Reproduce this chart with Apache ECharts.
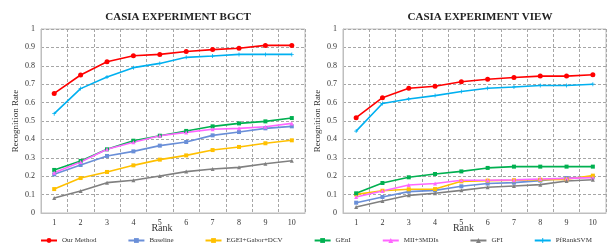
<!DOCTYPE html>
<html>
<head>
<meta charset="utf-8">
<script src="https://cdn.jsdelivr.net/npm/echarts@6/dist/echarts.min.js"></script>
<style>
  html, body { margin: 0; padding: 0; background: #fff; }
  #chart { width: 610px; height: 251px; }
</style>
</head>
<body>
<div id="chart"></div>
<script>
// 横轴 rank
const ranks = ['1', '2', '3', '4', '5', '6', '7', '8', '9', '10']
const seriesNames = ['Our Method', 'Baseline', 'EGEI+Gabor+DCV', 'GEnI', 'MII+3MDIs', 'GFI', 'PfRankSVM']

// BGCT 实验
const bgctOurMethod = [0.65, 0.75, 0.822, 0.855, 0.862, 0.878, 0.888, 0.895, 0.911, 0.911]
const bgctBaseline = [0.21, 0.261, 0.31, 0.335, 0.366, 0.386, 0.422, 0.44, 0.46, 0.471]
const bgctEgei = [0.13, 0.19, 0.223, 0.259, 0.29, 0.313, 0.342, 0.359, 0.379, 0.395]
const bgctGenI = [0.234, 0.283, 0.346, 0.393, 0.42, 0.446, 0.471, 0.487, 0.498, 0.516]
const bgctMii = [0.219, 0.277, 0.346, 0.384, 0.42, 0.438, 0.455, 0.46, 0.469, 0.487]
const bgctGfi = [0.082, 0.12, 0.165, 0.178, 0.201, 0.225, 0.239, 0.248, 0.268, 0.284]
const bgctPfRank = [0.54, 0.676, 0.739, 0.79, 0.813, 0.846, 0.853, 0.862, 0.862, 0.862]

// VIEW 实验
const viewOurMethod = [0.518, 0.627, 0.678, 0.689, 0.713, 0.727, 0.736, 0.744, 0.744, 0.751]
const viewBaseline = [0.056, 0.087, 0.116, 0.123, 0.145, 0.16, 0.165, 0.176, 0.19, 0.197]
const viewEgei = [0.101, 0.121, 0.129, 0.13, 0.172, 0.176, 0.178, 0.181, 0.183, 0.203]
const viewGenI = [0.107, 0.163, 0.194, 0.212, 0.226, 0.245, 0.252, 0.252, 0.252, 0.252]
const viewMii = [0.087, 0.12, 0.152, 0.16, 0.178, 0.178, 0.18, 0.185, 0.188, 0.192]
const viewGfi = [0.033, 0.065, 0.096, 0.107, 0.123, 0.14, 0.147, 0.154, 0.174, 0.181]
const viewPfRank = [0.445, 0.595, 0.62, 0.638, 0.66, 0.678, 0.685, 0.693, 0.693, 0.7]

const yTicks = [0, 0.1, 0.2, 0.3, 0.4, 0.5, 0.6, 0.7, 0.8, 0.9, 1]

const colors = ['#ff0000', '#6a8fd8', '#ffc000', '#00b050', '#ff66ff', '#808080', '#00b0f0']
const plusPath = 'path://M4,0H6V4H10V6H6V10H4V6H0V4H4Z'
const symbols = ['circle', 'rect', 'rect', 'rect', 'triangle', 'triangle', plusPath]

const FONT = 'Liberation Serif'

function createSerie(idx, data, gridIdx) {
  return {
    name: seriesNames[idx],
    type: 'line',
    xAxisIndex: gridIdx,
    yAxisIndex: gridIdx,
    data: data,
    symbol: symbols[idx],
    symbolSize: idx === 0 ? 5 : 4,
    showSymbol: true,
    lineStyle: { width: 1.6, color: colors[idx] },
    itemStyle: { color: colors[idx] },
    animation: false
  }
}

function xAxisOf(gridIdx) {
  return {
    type: 'category',
    gridIndex: gridIdx,
    data: ranks,
    boundaryGap: true,
    axisTick: { show: false },
    axisLine: { lineStyle: { color: '#bfbfbf' } },
    axisLabel: { color: '#333', fontFamily: FONT, fontSize: 8, margin: 6 },
    splitLine: { show: true, lineStyle: { color: '#a6a6a6', type: [3, 2] } },
    name: 'Rank',
    nameLocation: 'middle',
    nameGap: 10,
    nameMoveOverlap: false,
    nameTextStyle: { color: '#333', fontFamily: FONT, fontSize: 10, padding: [0, 22, 0, 0] }
  }
}

function yAxisOf(gridIdx) {
  return {
    type: 'value',
    gridIndex: gridIdx,
    min: yTicks[0],
    max: yTicks[yTicks.length - 1],
    interval: 0.1,
    axisTick: { show: false },
    axisLine: { show: true, lineStyle: { color: '#bfbfbf' } },
    axisLabel: { color: '#333', fontFamily: FONT, fontSize: 8, margin: 6 },
    splitLine: { show: true, lineStyle: { color: '#a6a6a6', type: [3, 2] } },
    name: 'Recognition Rate',
    nameLocation: 'middle',
    nameGap: 21,
    nameMoveOverlap: false,
    nameTextStyle: { color: '#333', fontFamily: FONT, fontSize: 9 }
  }
}

const chart = echarts.init(document.getElementById('chart'), null, { renderer: 'canvas' })

const bgct = [bgctOurMethod, bgctBaseline, bgctEgei, bgctGenI, bgctMii, bgctGfi, bgctPfRank]
const view = [viewOurMethod, viewBaseline, viewEgei, viewGenI, viewMii, viewGfi, viewPfRank]
const series = bgct.map((d, i) => createSerie(i, d, 0)).concat(view.map((d, i) => createSerie(i, d, 1)))

chart.setOption({
  backgroundColor: '#fff',
  title: [
    {
      text: 'CASIA EXPERIMENT BGCT',
      left: 173,
      top: 7,
      textAlign: 'center',
      textStyle: { fontFamily: FONT, fontSize: 11, fontWeight: 'bold', color: '#222' }
    },
    {
      text: 'CASIA EXPERIMENT VIEW',
      left: 475,
      top: 7,
      textAlign: 'center',
      textStyle: { fontFamily: FONT, fontSize: 11, fontWeight: 'bold', color: '#222' }
    }
  ],
  grid: [
    { left: 41, right: 305, top: 29, bottom: 38, show: true, borderColor: '#bfbfbf', borderWidth: 1 },
    { left: 343, right: 4, top: 29, bottom: 38, show: true, borderColor: '#bfbfbf', borderWidth: 1 }
  ],
  legend: {
    data: seriesNames,
    top: 237,
    left: 40,
    width: 600,
    padding: 0,
    itemWidth: 16,
    itemHeight: 6,
    itemGap: 31,
    textStyle: { fontFamily: FONT, fontSize: 7, color: '#333' }
  },
  xAxis: [xAxisOf(0), xAxisOf(1)],
  yAxis: [yAxisOf(0), yAxisOf(1)],
  series: series
})
</script>
</body>
</html>
